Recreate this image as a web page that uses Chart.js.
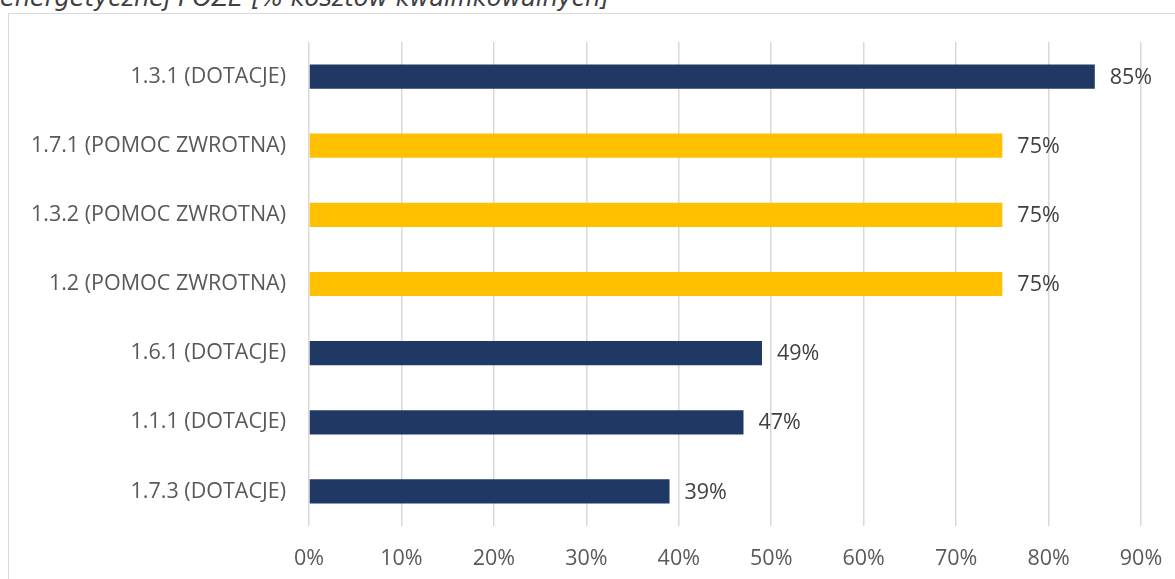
<!DOCTYPE html>
<html>
<head>
<meta charset="utf-8">
<script src="https://cdn.jsdelivr.net/npm/chart.js@4/dist/chart.umd.min.js"></script>
<style>
  html, body { margin: 0; padding: 0; background: #fff; overflow: hidden; }
  #wrap { position: relative; width: 1175px; height: 579px; }
  #tytul {
    position: absolute; left: 0; top: -14px; white-space: nowrap; line-height: 24px;
    font-family: "DejaVu Sans", sans-serif; font-style: italic; font-size: 24px; color: #404040;
  }
  #ramka {
    position: absolute; left: 8px; top: 13px; width: 1200px; height: 600px;
    border: 1px solid #d9d9d9; box-sizing: border-box;
  }
  #chart { position: absolute; left: 0; top: 0; }
</style>
</head>
<body>
<div id="wrap">
  <div id="tytul">energetycznej POZE [% kosztów kwalifikowalnych]</div>
  <div id="ramka"></div>
  <canvas id="chart" width="1175" height="579"></canvas>
</div>
<script>
// działania i maksymalny poziom dofinansowania
const dzialania = ["1.3.1 (DOTACJE)", "1.7.1 (POMOC ZWROTNA)", "1.3.2 (POMOC ZWROTNA)", "1.2 (POMOC ZWROTNA)", "1.6.1 (DOTACJE)", "1.1.1 (DOTACJE)", "1.7.3 (DOTACJE)"]
const poziom = [85, 75, 75, 75, 49, 47, 39]
const rodzaj = ["dotacje", "zwrotna", "zwrotna", "zwrotna", "dotacje", "dotacje", "dotacje"]

const kolory = { dotacje: "#203864", zwrotna: "#FFC000" }
const szary = "#595959"
const czcionka = { family: "'Open Sans', sans-serif", size: 21.5 }

// etykiety z wartością za końcem słupka
const etykiety = {
  id: "etykiety",
  afterDatasetsDraw(chart) {
    const ctx = chart.ctx
    const meta = chart.getDatasetMeta(0)
    ctx.save()
    ctx.font = "21.5px 'Open Sans', sans-serif"
    ctx.fillStyle = "#404040"
    ctx.textAlign = "left"
    ctx.textBaseline = "middle"
    meta.data.forEach((bar, i) => {
      ctx.fillText(poziom[i] + "%", bar.x + 15, bar.y + 1)
    })
    ctx.restore()
  }
}

new Chart("chart", {
  type: "bar",
  data: {
    labels: dzialania,
    datasets: [{
      data: poziom,
      backgroundColor: rodzaj.map(r => kolory[r]),
      barPercentage: 0.7,
      categoryPercentage: 0.5
    }]
  },
  options: {
    indexAxis: "y",
    responsive: false,
    animation: false,
    layout: { padding: { top: 42, right: 34, left: 0, bottom: 0 } },
    plugins: { legend: { display: false }, tooltip: { enabled: false } },
    scales: {
      x: {
        min: 0, max: 90,
        ticks: { stepSize: 10, color: szary, font: czcionka, padding: 20, callback: v => v + "%" },
        grid: { color: "#d9d9d9", lineWidth: 1.5, drawTicks: false },
        border: { display: false },
        afterFit: s => { s.height = 53; s.paddingLeft = 0; s.paddingRight = 0 }
      },
      y: {
        ticks: { color: szary, font: czcionka, padding: 23 },
        grid: { display: false, drawTicks: false },
        border: { display: false },
        afterFit: s => { s.width = 309 }
      }
    }
  },
  plugins: [etykiety]
})
</script>
</body>
</html>
